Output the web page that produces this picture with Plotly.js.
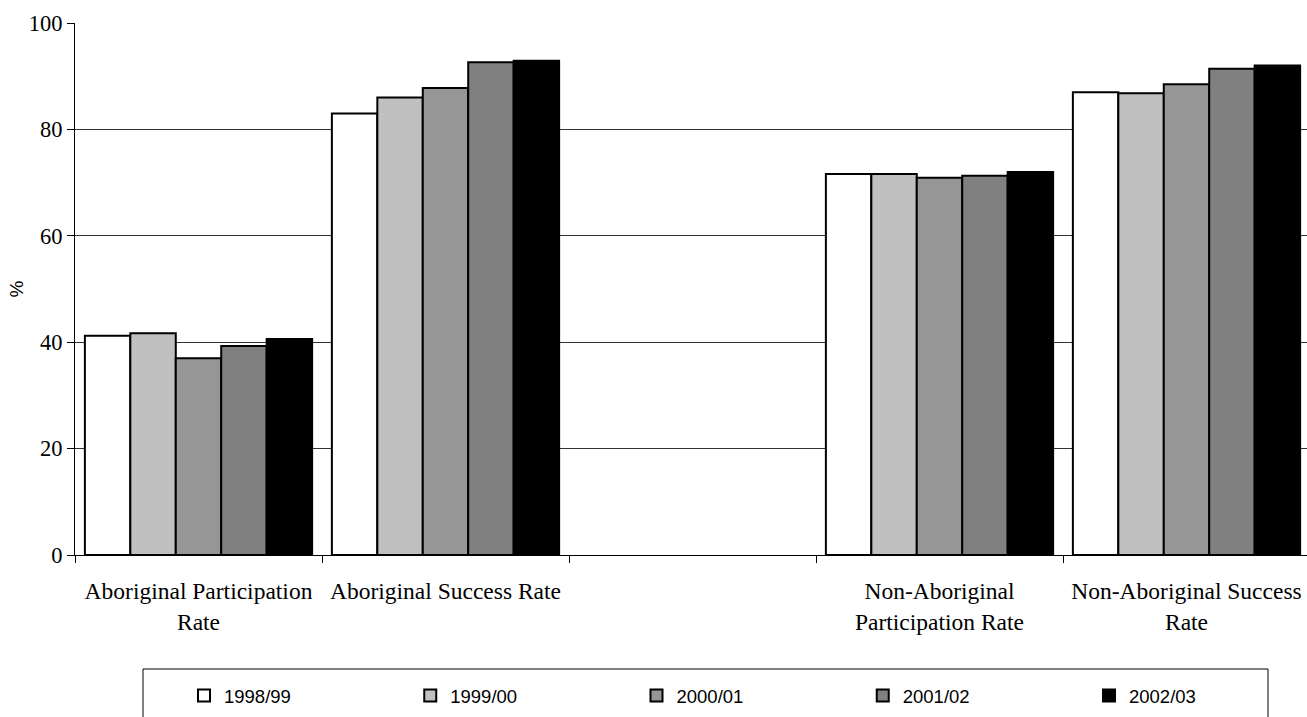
<!DOCTYPE html>
<html>
<head>
<meta charset="utf-8">
<script src="https://cdn.plot.ly/plotly-3.0.1.min.js"></script>
<style>html,body{margin:0;padding:0;background:#fff;overflow:hidden;width:1307px;height:717px}#chart{width:1310px;height:717px}</style>
</head>
<body>
<div id="chart"></div>
<script>
const categories = ["Aboriginal Participation<br>Rate", "Aboriginal Success Rate", " ", "Non-Aboriginal<br>Participation Rate", "Non-Aboriginal Success<br>Rate"];
const seriesNames = ["1998/99", "1999/00", "2000/01", "2001/02", "2002/03"];
const v1998 = [41.2, 83.0, null, 71.6, 87.0];
const v1999 = [41.7, 86.0, null, 71.6, 86.8];
const v2000 = [37.0, 87.8, null, 70.9, 88.5];
const v2001 = [39.3, 92.6, null, 71.3, 91.4];
const v2002 = [40.6, 92.9, null, 72.0, 92.0];
const colors = ["#ffffff", "#c0c0c0", "#969696", "#808080", "#000000"];

const values = [v1998, v1999, v2000, v2001, v2002];
const legendIds = ["legend", "legend2", "legend3", "legend4", "legend5"];
const traces = values.map((v, i) => ({
  type: "bar",
  name: seriesNames[i],
  x: categories,
  y: v,
  legend: legendIds[i],
  marker: {color: colors[i], line: {color: "#000", width: 2}},
  hoverinfo: "skip"
}));

const plotLeft = 75, plotWidth = 1235;
const layout = {
  width: 1310, height: 717,
  margin: {l: 75, r: 0, t: 23, b: 162},
  paper_bgcolor: "#fff", plot_bgcolor: "#fff",
  barmode: "group", bargap: 0.08, bargroupgap: 0,
  showlegend: true,
  shapes: [{
    type: "rect", xref: "paper", yref: "paper",
    x0: (143 - plotLeft) / plotWidth, x1: (1268 - plotLeft) / plotWidth, y0: -0.2143, y1: -0.33,
    line: {color: "#000", width: 1}, fillcolor: "rgba(0,0,0,0)", layer: "above"
  }],
  xaxis: {
    type: "category",
    categoryorder: "array", categoryarray: categories,
    showline: true, linecolor: "#000", linewidth: 1,
    ticks: "outside", ticklen: 7, tickcolor: "#000", tickson: "boundaries",
    ticklabelstandoff: 15,
    tickfont: {family: "Liberation Serif, Times New Roman", size: 23.5, color: "#000"},
    showgrid: false, zeroline: false,
    automargin: false
  },
  yaxis: {
    range: [0, 100], dtick: 20,
    showline: true, linecolor: "#000", linewidth: 1,
    ticks: "outside", ticklen: 7, tickcolor: "#000",
    tickfont: {family: "Liberation Serif, Times New Roman", size: 22.5, color: "#000"},
    showgrid: true, gridcolor: "#333", gridwidth: 1,
    zeroline: false, automargin: false,
    title: {text: "%", font: {family: "Liberation Sans, Arial", size: 19, color: "#000"}, standoff: 0}
  }
};
legendIds.forEach((id, i) => {
  layout[id] = {
    orientation: "h", x: (184 + 226.25 * i - plotLeft) / plotWidth, xanchor: "left",
    y: -0.2293, yanchor: "top",
    borderwidth: 0, bgcolor: "rgba(0,0,0,0)",
    font: {family: "Liberation Sans, Arial", size: 18.5, color: "#000"}
  };
});

Plotly.newPlot("chart", traces, layout, {displayModeBar: false, staticPlot: true});
</script>
</body>
</html>
